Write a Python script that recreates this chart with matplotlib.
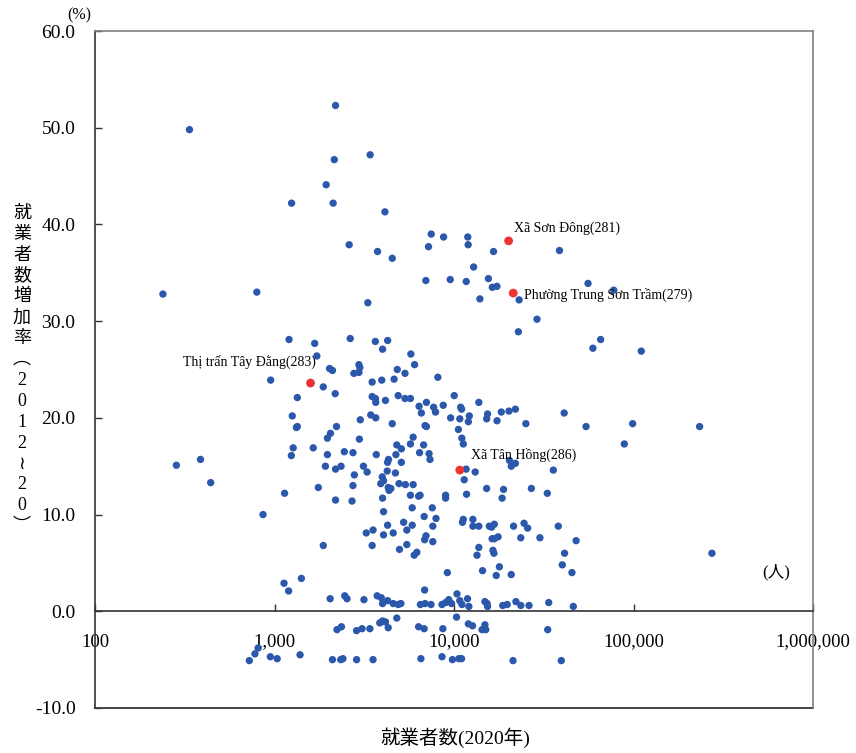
import numpy as np
import matplotlib
matplotlib.use("Agg")
import matplotlib.pyplot as plt
from matplotlib.ticker import FixedLocator, FixedFormatter, NullLocator

SERIF = ["Liberation Serif", "Noto Sans CJK JP", "DejaVu Sans"]
plt.rcParams["font.family"] = SERIF

# 就業者数(2020年) and 就業者数増加率(2012~20, %) for each commune
employed = np.array([
    2188, 336, 2153, 3412, 1940, 1245, 2122, 4123, 7464, 8750, 11930, 2606,
    7210, 11990, 3750, 4530, 16600, 38700, 12860, 6970, 9530, 11700, 15550,
    16350, 17350, 55800, 77600, 23050, 13940, 239, 797, 3311, 29000, 22840,
    1205, 1674, 2642, 3646, 4270, 4000, 65600, 59400, 110500, 1722, 5750,
    2027, 2103, 2953, 2987, 2768, 2953, 6030, 4830, 5333, 8130, 952, 3500,
    3958, 4637, 1870, 2178,
    1340, 3500, 3648, 4150, 3665, 4888, 5335, 5718, 10030, 7020, 8710, 6390,
    7700, 7890, 6580, 10890, 11020, 13750, 15380, 15200, 18340, 20240, 21980,
    12170, 12020, 17370, 9580, 10770, 41100, 25140, 54400, 98900, 233500,
    1256, 3437, 3665, 3006,
    1340, 1324, 2215, 4530, 6900, 7020, 10580, 2050, 1971, 2970, 5920, 11060,
    11270, 88900,
    1271, 1644, 1241, 1971, 2449, 2736, 3690, 4800, 5090, 4747, 5718, 6770,
    6430, 7260, 7350, 4316, 4265, 5090, 20370, 20850, 21980, 387, 284,
    1921, 2188, 2349, 3129, 2785, 3281, 4245, 4715, 3983, 4050, 3908, 2736,
    11680, 13120, 11400, 35750, 441,
    4940, 5360, 5920, 4300, 4350, 4450, 1754, 1138, 4000, 2188, 2703, 5718,
    6350, 6470, 8980, 8980, 11750, 15200, 18870, 26980, 18540, 33100,
    5850, 7570, 4050, 863, 6820, 7940,
    11270, 11150, 12740, 12740, 13750, 15730, 16770, 16200, 24560, 25720,
    21470, 38100, 5240, 5850, 4265, 7620, 5460, 3540, 3245, 4585, 4050, 6980,
    6860, 7620, 16300, 16770, 17600, 23550, 30100, 47900, 3500, 1870, 5460,
    4970, 13750, 13430, 16480, 16690, 6210, 6000, 41300, 273500, 17900,
    40100, 45400, 9180, 14420, 17190, 20830, 1412, 1130, 1199,
    6860, 2042, 2462, 2535, 3150, 3732, 3935, 4266, 4000, 4585, 4890, 5060,
    6500, 6900, 7450, 8570, 8980, 9350, 10390, 10770, 11070, 11890, 12100,
    14870, 15290, 15380, 18680, 19780, 22130, 23560, 26180, 33700, 46200,
    9690,
    10330, 4000, 4150, 3860, 4800, 4300, 6350, 6820, 8670, 12020, 12680,
    14870, 14330, 15020, 2230, 2360, 2866, 3074, 3398, 33270,
    724, 778, 810, 948, 1035, 1388, 2103, 2338, 2405, 2866, 3540, 6540, 8575,
    9800, 10640, 11020, 21320, 39600,
])
growth = np.array([
    52.3, 49.8, 46.7, 47.2, 44.1, 42.2, 42.2, 41.3, 39.0, 38.7, 38.7, 37.9,
    37.7, 37.9, 37.2, 36.5, 37.2, 37.3, 35.6, 34.2, 34.3, 34.1, 34.4,
    33.5, 33.6, 33.9, 33.2, 32.2, 32.3, 32.8, 33.0, 31.9, 30.2, 28.9,
    28.1, 27.7, 28.2, 27.9, 28.0, 27.1, 28.1, 27.2, 26.9, 26.4, 26.6,
    25.1, 24.9, 25.5, 25.2, 24.6, 24.7, 25.5, 25.0, 24.6, 24.2, 23.9, 23.7,
    23.9, 24.0, 23.2, 22.5,
    22.1, 22.2, 22.0, 21.8, 21.6, 22.3, 22.0, 22.0, 22.3, 21.6, 21.3, 21.2,
    21.1, 20.6, 20.5, 21.1, 20.9, 21.6, 20.4, 19.9, 20.6, 20.7, 20.9,
    20.2, 19.6, 19.7, 20.0, 19.9, 20.5, 19.4, 19.1, 19.4, 19.1,
    20.2, 20.3, 20.0, 19.8,
    19.1, 19.0, 19.1, 19.4, 19.2, 19.1, 18.8, 18.4, 17.9, 17.8, 18.0, 17.9,
    17.3, 17.3,
    16.9, 16.9, 16.1, 16.2, 16.5, 16.4, 16.2, 17.2, 16.8, 16.2, 17.3, 17.2,
    16.4, 16.3, 15.7, 15.7, 15.4, 15.4, 15.6, 15.0, 15.3, 15.7, 15.1,
    15.0, 14.7, 15.0, 15.0, 14.1, 14.4, 14.5, 14.3, 13.9, 13.5, 13.2, 13.0,
    14.7, 14.4, 13.6, 14.6, 13.3,
    13.2, 13.1, 13.1, 12.8, 12.5, 12.7, 12.8, 12.2, 11.7, 11.5, 11.4, 12.0,
    11.9, 12.0, 12.0, 11.7, 12.1, 12.7, 12.6, 12.7, 11.7, 12.2,
    10.7, 10.7, 10.3, 10.0, 9.8, 9.6,
    9.5, 9.2, 9.5, 8.8, 8.8, 8.8, 9.0, 8.7, 9.1, 8.6,
    8.8, 8.8, 9.2, 8.9, 8.9, 8.8, 8.4, 8.4, 8.1, 8.1, 7.9, 7.8,
    7.4, 7.2, 7.5, 7.5, 7.7, 7.6, 7.6, 7.3, 6.8, 6.8, 6.9,
    6.4, 6.6, 5.8, 6.3, 6.0, 6.1, 5.8, 6.0, 6.0, 4.6,
    4.8, 4.0, 4.0, 4.2, 3.7, 3.8, 3.4, 2.9, 2.1,
    2.2, 1.3, 1.6, 1.3, 1.2, 1.6, 1.4, 1.1, 0.8, 0.8, 0.7, 0.8,
    0.7, 0.8, 0.7, 0.7, 0.9, 1.2, 1.8, 1.1, 0.7, 1.3, 0.5,
    1.0, 0.8, 0.5, 0.6, 0.7, 1.0, 0.6, 0.6, 0.9, 0.5,
    0.8,
    -0.6, -1.0, -1.1, -1.2, -0.7, -1.7, -1.6, -1.8, -1.8, -1.3, -1.5,
    -1.4, -1.9, -1.9, -1.9, -1.6, -2.0, -1.8, -1.8, -1.9,
    -5.1, -4.4, -3.8, -4.7, -4.9, -4.5, -5.0, -5.0, -4.9, -5.0, -5.0, -4.9, -4.7,
    -5.0, -4.9, -4.9, -5.1, -5.1,
])

# highlighted communes
hl_names = ["Xã Sơn Đông(281)", "Phường Trung Sơn Trầm(279)",
            "Thị trấn Tây Đằng(283)", "Xã Tân Hồng(286)"]
hl_employed = [20150, 21380, 1587, 10770]
hl_growth = [38.3, 32.9, 23.6, 14.6]

x_ticks = [100, 1000, 10000, 100000, 1000000]
x_labels = ["100", "1,000", "10,000", "100,000", "1,000,000"]
y_ticks = [-10, 0, 10, 20, 30, 40, 50, 60]
y_labels = [f"{v:.1f}" for v in y_ticks]

BLUE = "#2b58aa"
RED = "#ee3333"

fig = plt.figure(figsize=(8.56, 7.53), dpi=100)
ax = fig.add_axes([95 / 856, 45 / 753, 718 / 856, 677 / 753])

ax.scatter(employed, growth, s=28, color=BLUE, edgecolors="none", zorder=3)
ax.scatter(hl_employed, hl_growth, s=40, color=RED, edgecolors="none", zorder=4)

# label offsets (points) relative to the red dots
offsets = [(4, 9, "left"), (8, -1, "left"), (4, 15, "right"), (8, 11, "left")]
for name, xv, yv, (dx, dy, ha) in zip(hl_names, hl_employed, hl_growth, offsets):
    ax.annotate(name, (xv, yv), xytext=(dx, dy), textcoords="offset points",
                ha=ha, va="center", fontsize=10, family=SERIF, zorder=5)

ax.set_xscale("log")
ax.set_xlim(100, 1000000)
ax.set_ylim(-10, 60)

ax.xaxis.set_major_locator(FixedLocator(x_ticks))
ax.xaxis.set_major_formatter(FixedFormatter(x_labels))
ax.xaxis.set_minor_locator(NullLocator())
ax.yaxis.set_major_locator(FixedLocator(y_ticks))
ax.yaxis.set_major_formatter(FixedFormatter(y_labels))

ax.spines["bottom"].set_position(("data", 0))
ax.spines["bottom"].set_color("#333333")
ax.spines["left"].set_color("#333333")
ax.spines["top"].set_color("#808080")
ax.spines["right"].set_color("#808080")
for s in ax.spines.values():
    s.set_linewidth(1.2)
# bottom frame line at -10
ax.plot([0, 1], [0, 0], transform=ax.transAxes, color="#444444",
        lw=1.4, clip_on=False, zorder=2)

ax.tick_params(axis="x", direction="in", length=5, width=1, pad=16,
               labelsize=13.5, colors="#333333", labelcolor="black")
ax.tick_params(axis="y", direction="in", length=5, width=1, pad=14,
               labelsize=14, colors="#333333", labelcolor="black")

fig.text(455 / 856, 1 - 738 / 753, "就業者数(2020年)", ha="center", va="center",
         fontsize=14, family=SERIF)

ylab_chars = ["就", "業", "者", "数", "増", "加", "率", "︵",
              "2", "0", "1", "2", "≀", "2", "0", "︶"]
fig.text(22 / 856, 1 - 370 / 753, "\n".join(ylab_chars), ha="center",
         va="center", fontsize=13, linespacing=1.3, family=SERIF)

fig.text(79 / 856, 1 - 15 / 753, "(%)", ha="center", va="center",
         fontsize=11.5, family=SERIF)
fig.text(776 / 856, 1 - 572 / 753, "(人)", ha="center", va="center",
         fontsize=12, family=SERIF)

fig.savefig("out.png", dpi=100)
